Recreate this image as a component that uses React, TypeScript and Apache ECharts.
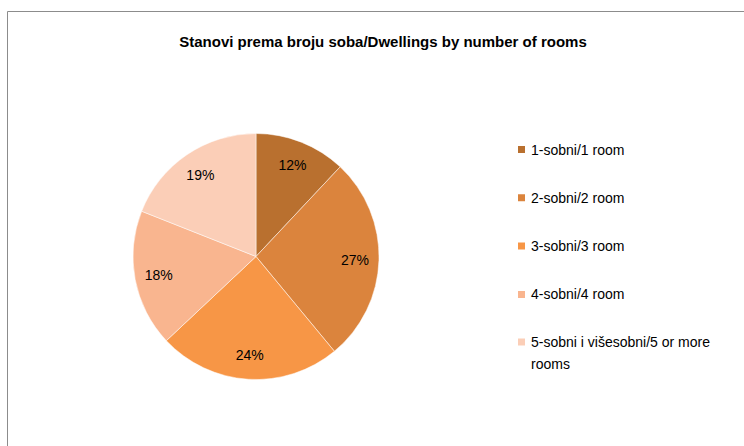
import React, { useEffect, useRef } from "react";
import * as echarts from "echarts";

const categories = [
  "1-sobni/1 room",
  "2-sobni/2 room",
  "3-sobni/3 room",
  "4-sobni/4 room",
  "5-sobni i višesobni/5 or more rooms",
];
const values = [12, 27, 24, 18, 19];
const colors = ["#B9702F", "#DB843D", "#F79646", "#F9B58F", "#FBCEB7"];
const title = "Stanovi prema broju soba/Dwellings by number of rooms";

const FONT = "'Liberation Sans Narrow', 'Liberation Sans', Arial, sans-serif";

export default function App() {
  const ref = useRef<HTMLDivElement>(null);
  useEffect(() => {
    if (!ref.current) return;
    const chart = echarts.init(ref.current, null, { renderer: "svg" });
    const data = categories.map((c, i) => ({
      name: c,
      value: values[i],
      itemStyle: { color: colors[i] },
    }));
    const R = 123;
    const legendBase = {
      orient: "vertical",
      left: 511,
      itemWidth: 9,
      itemHeight: 9,
      icon: "rect",
      selectedMode: false,
    };
    chart.setOption({
      animation: false,
      backgroundColor: "#ffffff",
      title: {
        text: title,
        left: 378,
        top: 29,
        textAlign: "center",
        textStyle: { fontFamily: FONT, fontSize: 15, fontWeight: "bold", color: "#000" },
      },
      legend: [
        {
          ...legendBase,
          top: 136,
          itemGap: 31.3,
          textStyle: { fontFamily: FONT, fontSize: 14, color: "#000", lineHeight: 17 },
          data: categories.slice(0, 4),
        },
        {
          ...legendBase,
          top: 304,
          formatter: () => "{e| }\n{t|5-sobni i višesobni/5 or more}\n{t|rooms}",
          textStyle: {
            fontFamily: FONT,
            fontSize: 14,
            color: "#000",
            lineHeight: 22,
            rich: {
              e: { fontSize: 14, lineHeight: 22, fontFamily: FONT },
              t: { fontSize: 14, lineHeight: 22, fontFamily: FONT, color: "#000" },
            },
          },
          data: categories.slice(4),
        },
      ],
      graphic: [
        {
          type: "rect",
          shape: { x: 7.5, y: 11.5, width: 800, height: 500 },
          style: { fill: "none", stroke: "#8c8c8c", lineWidth: 1 },
          silent: true,
        },
      ],
      series: [
        {
          type: "pie",
          center: [256, 256.5],
          radius: [0, R],
          startAngle: 90,
          clockwise: true,
          label: { show: false },
          labelLine: { show: false },
          itemStyle: { borderColor: "#ffffff", borderWidth: 0.5 },
          emphasis: { disabled: true },
          data,
        },
        {
          type: "pie",
          center: [256, 256.5],
          radius: [R * 0.56, R],
          startAngle: 90,
          clockwise: true,
          silent: true,
          itemStyle: { color: "rgba(0,0,0,0)" },
          label: {
            show: true,
            position: "inside",
            formatter: "{c}%",
            fontFamily: FONT,
            fontSize: 14,
            color: "#000",
          },
          labelLine: { show: false },
          emphasis: { disabled: true },
          data: categories.map((c, i) => ({ name: c, value: values[i] })),
        },
      ],
    });
    return () => chart.dispose();
  }, []);
  return (
    <div
      ref={ref}
      style={{ position: "fixed", left: 0, top: 0, width: 744, height: 446 }}
    />
  );
}
